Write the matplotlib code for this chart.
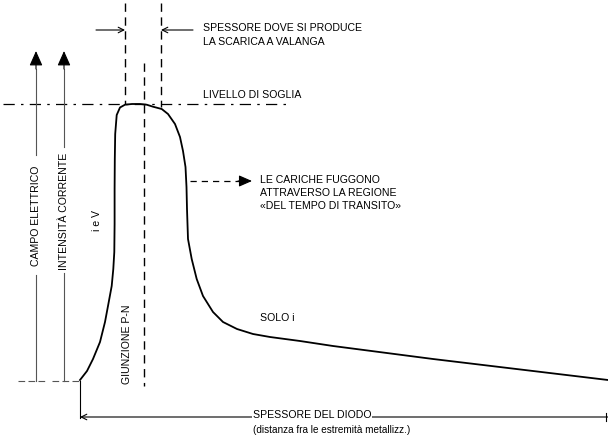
import matplotlib
matplotlib.use("Agg")
import matplotlib.pyplot as plt

plt.rcParams['font.family'] = ['Liberation Sans', 'DejaVu Sans']

# Field / current profile across the diode (x = depth, y = drawing units, top = high)
depth = [80, 87, 93, 100, 105, 108, 111.7, 113.3, 114.3, 114.6, 114.6, 114.8, 115.2, 116.7,
         120, 125, 132, 140, 146.7, 153, 161.7, 168, 175, 180, 183, 185.5, 186.5, 187,
         188, 191.7, 196.7, 203, 213, 223, 237, 253, 270, 300, 333, 433, 533, 608]
level = [381, 372, 360, 343, 323, 307, 287, 270, 253, 225, 190, 160, 135, 116,
         108.5, 105.7, 105, 105, 105.7, 107.7, 110, 115, 125, 138, 152, 168, 188, 210,
         240, 260, 280, 297, 313, 323, 330, 335, 338, 342, 347, 360, 372, 381]

threshold = 105
baseline = 382
avalanche_left, avalanche_right = 125, 161
junction_x = 144

fig = plt.figure(figsize=(6.08, 4.39), dpi=100)
ax = fig.add_axes([0, 0, 1, 1])
ax.set_xlim(0, 608)
ax.set_ylim(439, 0)
ax.axis('off')

fs = 7.6

# main curve
ax.plot(depth, level, color='black', lw=1.3, solid_joinstyle='round')

# threshold dash-dot line
ax.plot([3, 290], [threshold, threshold], color='black', lw=0.9, dashes=(9, 5, 2, 5))

# avalanche region vertical dashed lines
ax.plot([avalanche_left, avalanche_left], [4, threshold], color='black', lw=1.0, dashes=(6, 4))
ax.plot([avalanche_right, avalanche_right], [4, threshold + 3], color='black', lw=1.0, dashes=(6, 4))
# junction dashed line
ax.plot([junction_x, junction_x], [64, 387], color='black', lw=1.0, dashes=(6, 4))

# arrows pointing to avalanche region
ax.annotate('', xy=(avalanche_left, 31), xytext=(96, 31),
            arrowprops=dict(arrowstyle='->', lw=0.8, color='black', shrinkA=0, shrinkB=0))
ax.annotate('', xy=(avalanche_right, 31), xytext=(193, 31),
            arrowprops=dict(arrowstyle='->', lw=0.8, color='black', shrinkA=0, shrinkB=0))

ax.text(203, 28, 'SPESSORE DOVE SI PRODUCE', fontsize=fs, va='center', ha='left')
ax.text(203, 42, 'LA SCARICA A VALANGA', fontsize=fs, va='center', ha='left')
ax.text(203, 95, 'LIVELLO DI SOGLIA', fontsize=fs, va='center', ha='left')

# dashed arrow: charges escape
ax.plot([190, 240], [182, 182], color='black', lw=0.9, dashes=(5, 4))
ax.annotate('', xy=(252, 182), xytext=(238, 182),
            arrowprops=dict(arrowstyle='-|>,head_length=0.8,head_width=0.35', lw=0.8,
                            color='black', shrinkA=0, shrinkB=0))
ax.text(260, 180, 'LE CARICHE FUGGONO', fontsize=fs, va='center', ha='left')
ax.text(260, 193, 'ATTRAVERSO LA REGIONE', fontsize=fs, va='center', ha='left')
ax.text(260, 206, '«DEL TEMPO DI TRANSITO»', fontsize=fs, va='center', ha='left')

ax.text(260, 318, 'SOLO i', fontsize=fs, va='center', ha='left')

# left vertical axes (campo elettrico / intensità corrente)
for xv, label, top_gap, bot_gap in [(36, 'CAMPO ELETTRICO', 156, 276),
                                    (64, 'INTENSITÀ CORRENTE', 148, 274)]:
    ax.plot([xv, xv], [70, top_gap], color='#555555', lw=0.8)
    ax.plot([xv, xv], [bot_gap, baseline], color='#555555', lw=0.8)
    ax.annotate('', xy=(xv, 52), xytext=(xv, 70),
                arrowprops=dict(arrowstyle='-|>,head_length=0.9,head_width=0.4', lw=0.8,
                                color='black', shrinkA=0, shrinkB=0))
    ax.text(xv, (top_gap + bot_gap) / 2, label, fontsize=fs, rotation=90,
            va='center', ha='center')

ax.plot([18, 45], [baseline, baseline], color='#555555', lw=0.8, dashes=(6, 3))
ax.plot([52, 80], [baseline, baseline], color='#555555', lw=0.8, dashes=(6, 3))

ax.text(97, 221, 'i e V', fontsize=fs, rotation=90, va='center', ha='center')
ax.text(127, 344, 'GIUNZIONE P-N', fontsize=fs, rotation=90, va='center', ha='center')

# diode thickness dimension
ax.plot([80, 80], [baseline, 419], color='black', lw=0.8)
ax.annotate('', xy=(80, 418), xytext=(608, 418),
            arrowprops=dict(arrowstyle='->', lw=0.8, color='black', shrinkA=0, shrinkB=0))
ax.plot([606, 606], [414, 422], color='black', lw=0.8)
ax.text(253, 415, 'SPESSORE DEL DIODO', fontsize=fs, va='center', ha='left',
        bbox=dict(facecolor='white', edgecolor='none', pad=0.5))
ax.text(253, 430, '(distanza fra le estremità metallizz.)', fontsize=fs - 0.4,
        va='center', ha='left')

fig.savefig('out.png', dpi=100, facecolor='white')
